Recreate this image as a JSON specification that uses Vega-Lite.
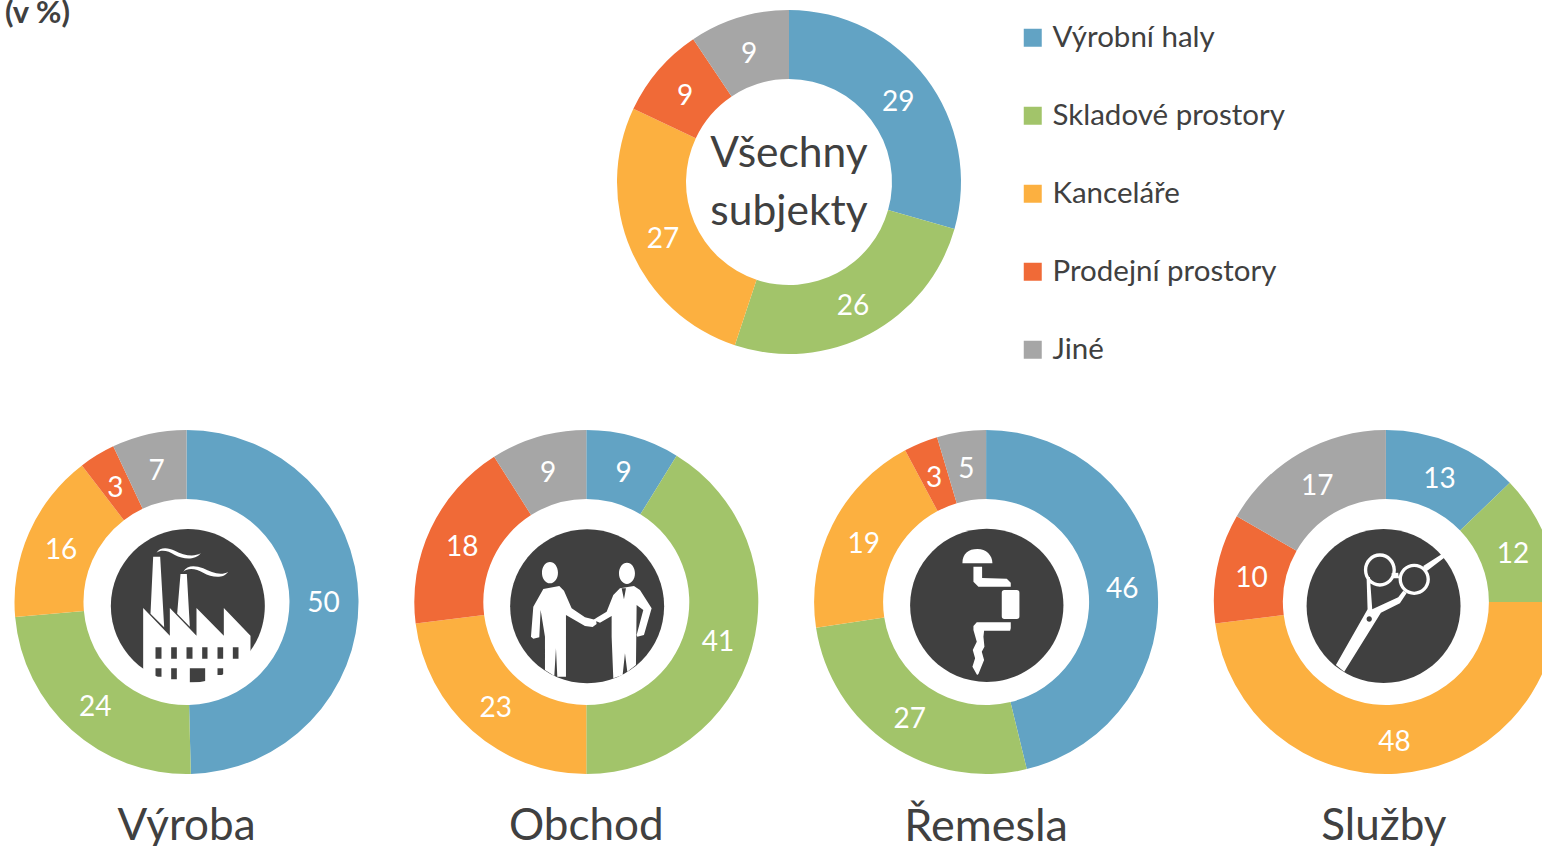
{"$schema":"https://vega.github.io/schema/vega-lite/v6.json","padding":{"top":-2,"left":0,"right":0,"bottom":0},"background":"white","config":{"view":{"stroke":null},"font":"Lato"},"resolve":{"scale":{"color":"independent","theta":"independent"}},"spacing":64,"datasets":{"d":[
{"skupina":"Všechny subjekty","typ":"Výrobní haly","podil":29.4,"popisek":29,"poradi":1},
{"skupina":"Všechny subjekty","typ":"Skladové prostory","podil":25.7,"popisek":26,"poradi":2},
{"skupina":"Všechny subjekty","typ":"Kanceláře","podil":26.9,"popisek":27,"poradi":3},
{"skupina":"Všechny subjekty","typ":"Prodejní prostory","podil":8.6,"popisek":9,"poradi":4},
{"skupina":"Všechny subjekty","typ":"Jiné","podil":9.4,"popisek":9,"poradi":5},
{"skupina":"Výroba","typ":"Výrobní haly","podil":49.6,"popisek":50,"poradi":1},
{"skupina":"Výroba","typ":"Skladové prostory","podil":24,"popisek":24,"poradi":2},
{"skupina":"Výroba","typ":"Kanceláře","podil":16,"popisek":16,"poradi":3},
{"skupina":"Výroba","typ":"Prodejní prostory","podil":3.4,"popisek":3,"poradi":4},
{"skupina":"Výroba","typ":"Jiné","podil":7,"popisek":7,"poradi":5},
{"skupina":"Obchod","typ":"Výrobní haly","podil":8.8,"popisek":9,"poradi":1},
{"skupina":"Obchod","typ":"Skladové prostory","podil":41.2,"popisek":41,"poradi":2},
{"skupina":"Obchod","typ":"Kanceláře","podil":23,"popisek":23,"poradi":3},
{"skupina":"Obchod","typ":"Prodejní prostory","podil":18,"popisek":18,"poradi":4},
{"skupina":"Obchod","typ":"Jiné","podil":9,"popisek":9,"poradi":5},
{"skupina":"Řemesla","typ":"Výrobní haly","podil":46.2,"popisek":46,"poradi":1},
{"skupina":"Řemesla","typ":"Skladové prostory","podil":26.4,"popisek":27,"poradi":2},
{"skupina":"Řemesla","typ":"Kanceláře","podil":19.6,"popisek":19,"poradi":3},
{"skupina":"Řemesla","typ":"Prodejní prostory","podil":3.2,"popisek":3,"poradi":4},
{"skupina":"Řemesla","typ":"Jiné","podil":4.6,"popisek":5,"poradi":5},
{"skupina":"Služby","typ":"Výrobní haly","podil":12.8,"popisek":13,"poradi":1},
{"skupina":"Služby","typ":"Skladové prostory","podil":12.2,"popisek":12,"poradi":2},
{"skupina":"Služby","typ":"Kanceláře","podil":48,"popisek":48,"poradi":3},
{"skupina":"Služby","typ":"Prodejní prostory","podil":10.3,"popisek":10,"poradi":4},
{"skupina":"Služby","typ":"Jiné","podil":16.7,"popisek":17,"poradi":5}
],"ikona":[{"n":1}]},
"vconcat":[
{"width":1578,"height":368,"title":{"text":"(v %)","orient":"top","anchor":"start","frame":"group","offset":-32,"dx":5,"fontSize":31,"font":"Lato","fontWeight":"bold","color":"#404040"},
"data":{"name":"d"},"transform":[{"filter":"datum.skupina==='Všechny subjekty'"}],
"layer":[
{"mark":{"type":"arc","outerRadius":172,"innerRadius":103},"encoding":{"theta":{"field":"podil","type":"quantitative","stack":true,"scale":{"domain":[0,100]}},"order":{"field":"poradi"},"color":{"field":"typ","type":"nominal","scale":{"domain":["Výrobní haly","Skladové prostory","Kanceláře","Prodejní prostory","Jiné"],"range":["#62A3C4","#A2C46A","#FCB040","#F06A37","#A6A6A6"]},"legend":{"title":null,"orient":"none","legendX":1018,"legendY":25,"padding":0,"symbolType":"square","symbolSize":324,"symbolOpacity":1,"symbolStrokeWidth":0,"labelFont":"Lato","labelFontSize":29.5,"labelColor":"#404040","labelOffset":5,"rowPadding":47,"labelLimit":400}}}},
{"mark":{"type":"text","radius":137,"fontSize":28,"font":"Lato","color":"white","dy":4},"encoding":{"theta":{"field":"podil","type":"quantitative","stack":true,"scale":{"domain":[0,100]}},"order":{"field":"poradi"},"text":{"field":"popisek"}}},
{"data":{"values":[{"radky":["Všechny","subjekty"]}]},"transform":[],"mark":{"type":"text","fontSize":42.5,"font":"Lato","color":"#404040","lineHeight":58,"dy":-28},"encoding":{"text":{"field":"radky"}}}
]},
{"hconcat":[
{"width":373,"height":344,"title":{"text":"Výroba","orient":"bottom","anchor":"middle","offset":31,"fontSize":44,"font":"Lato","fontWeight":"normal","color":"#404040"},"data":{"name":"d"},"transform":[{"filter":"datum.skupina==='Výroba'"}],
"layer":[
{"mark":{"type":"arc","outerRadius":172,"innerRadius":103},"encoding":{"theta":{"field":"podil","type":"quantitative","stack":true,"scale":{"domain":[0,100]}},"order":{"field":"poradi"},"color":{"field":"typ","type":"nominal","scale":{"domain":["Výrobní haly","Skladové prostory","Kanceláře","Prodejní prostory","Jiné"],"range":["#62A3C4","#A2C46A","#FCB040","#F06A37","#A6A6A6"]},"legend":null}}},
{"mark":{"type":"text","radius":137,"fontSize":28,"font":"Lato","color":"white","dy":4},"encoding":{"theta":{"field":"podil","type":"quantitative","stack":true,"scale":{"domain":[0,100]}},"order":{"field":"poradi"},"text":{"field":"popisek"}}},
{"data":{"name":"ikona"},"transform":[],"mark":{"type":"point","filled":true,"opacity":1,"color":"#404040","size":0.4444,"shape":"M-227,12a231,231 0 1,1 462,0a231,231 0 1,1 -462,0Z"}},
{"data":{"name":"ikona"},"transform":[],"mark":{"type":"point","filled":true,"opacity":1,"color":"white","size":0.4444,"shape":"M-130,18L-50,101L-50,18L30,101L30,18L112,101L112,18L192,101L192,235L120,262L-130,262ZM-93,136V170H-75V136ZM-46,136V170H-29V136ZM0,136V170H18V136ZM47,136V170H63V136ZM93,136V170H110V136ZM139,136V170H156V136ZM-93,199V224H-75V199ZM-46,199V232H-29V199ZM10,199V241H56V199ZM93,199V219H110V199ZM-100,-136L-79,-136L-67,76L-108,35ZM-18,-84L1,-84L10,74L-28,35ZM-90,-148C-80,-166 -55,-164 -35,-154C-10,-141 20,-134 43,-146C25,-124 -10,-128 -35,-141C-55,-154 -75,-158 -90,-148ZM-10,-91C2,-111 25,-111 50,-101C75,-88 105,-78 125,-91C110,-68 75,-74 50,-88C30,-100 5,-104 -10,-91Z"}}
]},
{"width":373,"height":344,"title":{"text":"Obchod","orient":"bottom","anchor":"middle","offset":31,"fontSize":44,"font":"Lato","fontWeight":"normal","color":"#404040"},"data":{"name":"d"},"transform":[{"filter":"datum.skupina==='Obchod'"}],
"layer":[
{"mark":{"type":"arc","outerRadius":172,"innerRadius":103},"encoding":{"theta":{"field":"podil","type":"quantitative","stack":true,"scale":{"domain":[0,100]}},"order":{"field":"poradi"},"color":{"field":"typ","type":"nominal","scale":{"domain":["Výrobní haly","Skladové prostory","Kanceláře","Prodejní prostory","Jiné"],"range":["#62A3C4","#A2C46A","#FCB040","#F06A37","#A6A6A6"]},"legend":null}}},
{"mark":{"type":"text","radius":137,"fontSize":28,"font":"Lato","color":"white","dy":4},"encoding":{"theta":{"field":"podil","type":"quantitative","stack":true,"scale":{"domain":[0,100]}},"order":{"field":"poradi"},"text":{"field":"popisek"}}},
{"data":{"name":"ikona"},"transform":[],"mark":{"type":"point","filled":true,"opacity":1,"color":"#404040","size":0.4444,"shape":"M-228.5,13a231,231 0 1,1 462,0a231,231 0 1,1 -462,0Z"}},
{"data":{"name":"ikona"},"transform":[],"mark":{"type":"point","filled":true,"opacity":1,"color":"white","size":0.4444,"shape":"M-133,-88a24,32 0 1,1 48,0a24,32 0 1,1 -48,0ZM98,-86a24,32 0 1,1 48,0a24,32 0 1,1 -48,0ZM-129,-39L-81,-48L-67,-34L-44,19L-4,46L29,54L31,66L19,75L-4,72L-61,39L-61,224L-87,224L-91,139L-96,222L-124,204L-124,104L-137,24L-141,106L-159,110L-166,104L-159,14ZM101,-41L143,-48L161,-36L196,19L173,99L153,104L151,99L171,24L151,9L149,189L123,209L116,154L109,219L81,229L76,104L76,42L41,62L21,54L31,47L61,29L81,-21ZM106,-41L113,-8L119,-41Z"}}
]},
{"width":373,"height":344,"title":{"text":"Řemesla","orient":"bottom","anchor":"middle","offset":31,"fontSize":45,"font":"Lato","fontWeight":"normal","color":"#404040"},"data":{"name":"d"},"transform":[{"filter":"datum.skupina==='Řemesla'"}],
"layer":[
{"mark":{"type":"arc","outerRadius":172,"innerRadius":103},"encoding":{"theta":{"field":"podil","type":"quantitative","stack":true,"scale":{"domain":[0,100]}},"order":{"field":"poradi"},"color":{"field":"typ","type":"nominal","scale":{"domain":["Výrobní haly","Skladové prostory","Kanceláře","Prodejní prostory","Jiné"],"range":["#62A3C4","#A2C46A","#FCB040","#F06A37","#A6A6A6"]},"legend":null}}},
{"mark":{"type":"text","radius":137,"fontSize":28,"font":"Lato","color":"white","dy":4},"encoding":{"theta":{"field":"podil","type":"quantitative","stack":true,"scale":{"domain":[0,100]}},"order":{"field":"poradi"},"text":{"field":"popisek"}}},
{"data":{"name":"ikona"},"transform":[],"mark":{"type":"point","filled":true,"opacity":1,"color":"#404040","size":0.4444,"shape":"M-228,10a230,230 0 1,1 460,0a230,230 0 1,1 -460,0Z"}},
{"data":{"name":"ikona"},"transform":[],"mark":{"type":"point","filled":true,"opacity":1,"color":"white","size":0.4444,"shape":"M-71,-116C-71,-146 -53,-159 -26,-159C0,-159 19,-141 19,-116ZM-38,-106L-12,-106L-12,-72L62,-70L74,-58L74,-46L-23,-46L-38,-61ZM55,-36H92Q100,-36 100,-28V43Q100,51 92,51H55Q47,51 47,43V-28Q47,-36 55,-36ZM-28,61L74,61L74,79L72,86L-6,86L-8,104L-5,134L-13,149L-6,174L-23,216L-27,219L-41,194L-33,169L-40,144L-28,119L-38,84L-38,72Z"}}
]},
{"width":373,"height":344,"title":{"text":"Služby","orient":"bottom","anchor":"middle","offset":31,"fontSize":44,"dx":-2,"font":"Lato","fontWeight":"normal","color":"#404040"},"data":{"name":"d"},"transform":[{"filter":"datum.skupina==='Služby'"}],
"layer":[
{"mark":{"type":"arc","outerRadius":172,"innerRadius":103},"encoding":{"theta":{"field":"podil","type":"quantitative","stack":true,"scale":{"domain":[0,100]}},"order":{"field":"poradi"},"color":{"field":"typ","type":"nominal","scale":{"domain":["Výrobní haly","Skladové prostory","Kanceláře","Prodejní prostory","Jiné"],"range":["#62A3C4","#A2C46A","#FCB040","#F06A37","#A6A6A6"]},"legend":null}}},
{"mark":{"type":"text","radius":137,"fontSize":28,"font":"Lato","color":"white","dy":4},"encoding":{"theta":{"field":"podil","type":"quantitative","stack":true,"scale":{"domain":[0,100]}},"order":{"field":"poradi"},"text":{"field":"popisek"}}},
{"data":{"name":"ikona"},"transform":[],"mark":{"type":"point","filled":true,"opacity":1,"color":"#404040","size":0.4444,"shape":"M-238,12a231,231 0 1,1 462,0a231,231 0 1,1 -462,0Z"}},
{"data":{"name":"ikona"},"transform":[],"mark":{"type":"point","filled":true,"opacity":1,"color":"white","size":0.4444,"shape":"M-66,-96a48,50 0 1,1 96,0a48,50 0 1,1 -96,0ZM-56,-96a38,40 0 1,0 76,0a38,40 0 1,0 -76,0ZM38,-68a47,47 0 1,1 94,0a47,47 0 1,1 -94,0ZM48,-68a37,37 0 1,0 74,0a37,37 0 1,0 -74,0ZM-58,-75L-48,-75L-41,22L37,-14L52,-34L62,-26L42,4L-15,32L-125,209L-150,189L-55,22ZM-58,51a8,8 0 1,0 16,0a8,8 0 1,0 -16,0ZM112,-108L167,-143L175,-133L122,-92ZM17,-86L37,-88L39,-71L17,-71Z"}}
]}
],"spacing":26.8,"resolve":{"scale":{"color":"independent","theta":"independent"}}}
]}
